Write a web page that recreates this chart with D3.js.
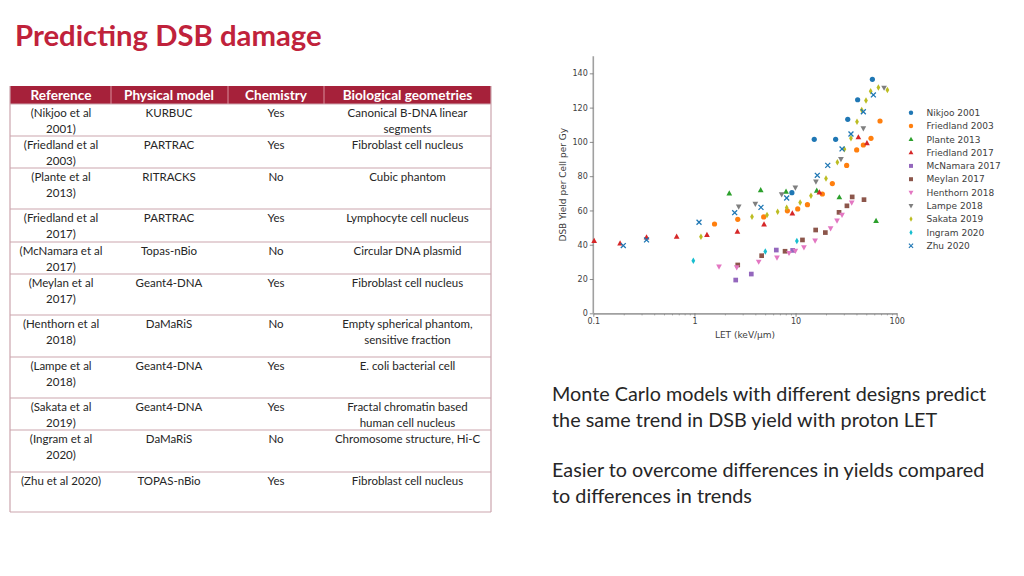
<!DOCTYPE html>
<html><head><meta charset="utf-8">
<script src="https://cdn.jsdelivr.net/npm/d3@7"></script>
<style>body{margin:0;background:#fff;} svg{display:block;}</style>
</head><body><svg id="c" width="1024" height="576"></svg>
<script>
// ---------- DATA ----------
const titleText = "Predicting DSB damage";
const tableHeaders = ["Reference", "Physical model", "Chemistry", "Biological geometries"];
const references = [["(Nikjoo et al","2001)"],["(Friedland et al","2003)"],["(Plante et al","2013)"],["(Friedland et al","2017)"],["(McNamara et al","2017)"],["(Meylan et al","2017)"],["(Henthorn et al","2018)"],["(Lampe et al","2018)"],["(Sakata et al","2019)"],["(Ingram et al","2020)"],["(Zhu et al 2020)"]];
const physicalModels = ["KURBUC","PARTRAC","RITRACKS","PARTRAC","Topas-nBio","Geant4-DNA","DaMaRiS","Geant4-DNA","Geant4-DNA","DaMaRiS","TOPAS-nBio"];
const chemistry = ["Yes","Yes","No","Yes","No","Yes","No","Yes","Yes","No","Yes"];
const geometries = [["Canonical B-DNA linear","segments"],["Fibroblast cell nucleus"],["Cubic phantom"],["Lymphocyte cell nucleus"],["Circular DNA plasmid"],["Fibroblast cell nucleus"],["Empty spherical phantom,","sensitive fraction"],["E. coli bacterial cell"],["Fractal chromatin based","human cell nucleus"],["Chromosome structure, Hi-C"],["Fibroblast cell nucleus"]];

const seriesNames = ["Nikjoo 2001","Friedland 2003","Plante 2013","Friedland 2017","McNamara 2017","Meylan 2017","Henthorn 2018","Lampe 2018","Sakata 2019","Ingram 2020","Zhu 2020"];
// [LET keV/um, DSB yield per cell per Gy]
const nikjoo2001 = [[9.2,70.4],[15.3,101.5],[24.9,101.5],[32.8,113.2],[41.1,124.6],[57.5,136.5]];
const friedland2003 = [[1.58,52.1],[2.68,54.8],[4.84,56.2],[8.3,59.8],[10.5,60.9],[13.1,63.4],[18.4,69.6],[23.1,75.7],[32.0,86.3],[40.2,95.3],[46.8,98.2],[55.7,102.1],[68.4,112.2]];
const plante2013 = [[2.21,70.0],[4.52,71.9],[8.05,71.0],[16.2,71.6],[27.1,67.7],[62.5,53.9]];
const friedland2017 = [[0.102,42.2],[0.184,40.8],[0.336,44.3],[0.667,44.7],[1.33,45.7],[2.66,47.6],[4.88,51.9],[9.29,58.3],[17.2,70.5],[41.8,102.7],[50.8,99.3]];
const mcnamara2017 = [[2.56,19.4],[3.65,22.9],[6.45,36.9],[9.36,36.7]];
const meylan2017 = [[2.68,28.2],[4.62,33.6],[7.87,36.2],[11.7,42.8],[15.8,48.6],[19.7,47.1],[26.9,58.9],[32.2,62.7],[36.3,67.9],[47.5,66.3]];
const henthorn2018 = [[1.75,27.2],[2.62,26.8],[4.32,30.1],[6.55,32.5],[8.61,35.2],[9.95,36.4],[12.1,38.5],[15.6,42.4],[22.2,49.6],[25.7,54.1],[28.8,57.4],[35.9,64.6]];
const lampe2018 = [[2.74,62.2],[4.0,63.8],[7.29,69.4],[9.95,73.3],[15.9,76.8],[28.1,90.0],[46.8,107.9],[75.0,131.6]];
const sakata2019 = [[1.16,44.7],[3.71,56.4],[5.22,57.4],[6.65,59.3],[8.17,61.6],[11.1,64.6],[14.2,68.6],[20.0,78.6],[25.9,88.1],[30.4,95.7],[35.3,102.1],[40.5,111.8],[45.1,118.6],[49.7,124.1],[55.3,129.5],[65.9,131.8],[80.9,130.3]];
const ingram2020 = [[0.975,30.7],[5.02,36.0],[10.3,42.2]];
const zhu2020 = [[0.198,39.5],[0.336,42.8],[1.11,53.1],[2.50,58.7],[4.55,61.8],[8.17,67.3],[16.4,80.5],[20.8,86.3],[28.8,95.9],[35.3,104.6],[46.8,117.6],[58.8,127.4]];

const xTickValues = [0.1, 1, 10, 100];
const xTickLabels = ["0.1", "1", "10", "100"];
const yTickValues = [0, 20, 40, 60, 80, 100, 120, 140];
const bodyText = [["Monte Carlo models with different designs predict","the same trend in DSB yield with proton LET"],["Easier to overcome differences in yields compared","to differences in trends"]];

// ---------- STYLES ----------
const seriesData = [nikjoo2001, friedland2003, plante2013, friedland2017, mcnamara2017, meylan2017, henthorn2018, lampe2018, sakata2019, ingram2020, zhu2020];
const seriesColors = ["#1f77b4","#ff7f0e","#2ca02c","#d62728","#9467bd","#8c564b","#e377c2","#7f7f7f","#bcbd22","#17becf","#1f77b4"];
const seriesShapes = ["circle","circle","tri-up","tri-up","square","square","tri-down","tri-down","diamond","diamond","x"];

const svg = d3.select("#c");

// Title
svg.append("text").attr("x", 15).attr("y", 46)
  .attr("font-family", "Lato, 'Open Sans', sans-serif").attr("font-weight", "bold")
  .attr("font-size", 29.3).attr("fill", "#c0223b").text(titleText);

// ---------- TABLE ----------
const tblLeft = 10, tblRight = 491;
const colBounds = [tblLeft, 111, 228, 324, tblRight];
const colCenters = [61, 169, 276, 407.5];
const headerTop = 86, headerBottom = 104;
const rowBounds = [104, 136, 168, 209, 242, 274, 315, 357, 398, 430, 472, 512];
const tblFont = "Lato, 'Open Sans', sans-serif";
const lineColor = "#cba5ae";
const tbl = svg.append("g");
tbl.append("rect").attr("x", tblLeft).attr("y", headerTop).attr("width", tblRight - tblLeft)
  .attr("height", headerBottom - headerTop).attr("fill", "#a6213a");
colBounds.slice(1, -1).forEach(cx => {
  tbl.append("line").attr("x1", cx).attr("x2", cx).attr("y1", headerTop).attr("y2", headerBottom)
    .attr("stroke", "#d9909c").attr("stroke-width", 1);
});
tableHeaders.forEach((h, i) => {
  tbl.append("text").attr("x", colCenters[i]).attr("y", 99.8).attr("text-anchor", "middle")
    .attr("font-family", tblFont).attr("font-weight", "bold").attr("font-size", 13.6)
    .attr("fill", "#ffffff").text(h);
});
rowBounds.forEach(ry => {
  tbl.append("line").attr("x1", tblLeft).attr("x2", tblRight).attr("y1", ry).attr("y2", ry)
    .attr("stroke", lineColor).attr("stroke-width", 1.2);
});
[tblLeft, tblRight].forEach(bx => {
  tbl.append("line").attr("x1", bx).attr("x2", bx).attr("y1", headerTop).attr("y2", rowBounds[rowBounds.length - 1])
    .attr("stroke", lineColor).attr("stroke-width", 1.2);
});
const cellLines = (lines, col, r) => {
  lines.forEach((t, k) => {
    tbl.append("text").attr("x", colCenters[col]).attr("y", rowBounds[r] + 12.5 + k * 16.3)
      .attr("text-anchor", "middle").attr("font-family", tblFont).attr("font-size", 11.5)
      .attr("fill", "#262626").text(t);
  });
};
references.forEach((lines, r) => {
  cellLines(lines, 0, r);
  cellLines([physicalModels[r]], 1, r);
  cellLines([chemistry[r]], 2, r);
  cellLines(geometries[r], 3, r);
});

// ---------- BODY TEXT ----------
bodyText.forEach((para, p) => {
  para.forEach((t, k) => {
    svg.append("text").attr("x", 552).attr("y", 401 + p * 76 + k * 26)
      .attr("font-family", tblFont).attr("font-size", 19.8).attr("fill", "#262626").text(t);
  });
});

// ---------- CHART ----------
const x = d3.scaleLog().domain([0.1, 100]).range([593.3, 896.7]);
const y = d3.scaleLinear().domain([0, 150]).range([313.3, 56.2]);
const axisFont = "'DejaVu Sans', sans-serif";
const axisColor = "#a0a0a0";
const textColor = "#404040";

// minor x ticks
const minorTicks = [];
[0.1, 1, 10].forEach(d => { for (let k = 2; k <= 9; k++) minorTicks.push(+(d * k).toPrecision(3)); });
const gxMinor = svg.append("g").attr("transform", `translate(0,${y(0)})`)
  .call(d3.axisBottom(x).tickValues(minorTicks).tickFormat("").tickSize(2).tickSizeOuter(0));
const gx = svg.append("g").attr("transform", `translate(0,${y(0)})`)
  .call(d3.axisBottom(x).tickValues(xTickValues).tickFormat((d, i) => xTickLabels[i]).tickSize(3.5).tickSizeOuter(0).tickPadding(2));
const gy = svg.append("g").attr("transform", `translate(${x(0.1)},0)`)
  .call(d3.axisLeft(y).tickValues(yTickValues).tickSize(3.5).tickSizeOuter(0).tickPadding(2));
[gxMinor, gx, gy].forEach(g => {
  g.select(".domain").attr("stroke", axisColor).attr("stroke-width", 1.6);
  g.selectAll(".tick line").attr("stroke", "#707070").attr("stroke-width", 0.8);
  g.selectAll(".tick text").attr("font-family", axisFont).attr("font-size", 8).attr("fill", textColor);
});
// y spine to top
gy.select(".domain").attr("d", `M0,${y(0)}V${y(150)}`);

svg.append("text").attr("x", x(Math.sqrt(10) )).attr("y", 338).attr("text-anchor", "middle")
  .attr("font-family", axisFont).attr("font-size", 9).attr("fill", textColor).text("LET (keV/μm)");
svg.append("text").attr("transform", `translate(566,${(y(0) + y(150)) / 2}) rotate(-90)`)
  .attr("text-anchor", "middle").attr("font-family", axisFont).attr("font-size", 9)
  .attr("fill", textColor).text("DSB Yield per Cell per Gy");

// markers
const R = 2.6;
function markerPath(shape) {
  switch (shape) {
    case "circle": return `M${R},0A${R},${R} 0 1,1 ${-R},0A${R},${R} 0 1,1 ${R},0Z`;
    case "tri-up": return `M0,${-R * 1.2}L${R * 1.1},${R * 0.8}L${-R * 1.1},${R * 0.8}Z`;
    case "tri-down": return `M0,${R * 1.2}L${R * 1.1},${-R * 0.8}L${-R * 1.1},${-R * 0.8}Z`;
    case "square": { const s = R * 0.9; return `M${-s},${-s}H${s}V${s}H${-s}Z`; }
    case "diamond": return `M0,${-R * 1.25}L${R * 0.72},0L0,${R * 1.25}L${-R * 0.72},0Z`;
    case "x": { const s = R * 0.95; return `M${-s},${-s}L${s},${s}M${-s},${s}L${s},${-s}`; }
  }
}
function drawMarker(g, shape, color) {
  const p = g.append("path").attr("d", markerPath(shape));
  if (shape === "x") p.attr("fill", "none").attr("stroke", color).attr("stroke-width", 1.3);
  else p.attr("fill", color);
}
const plot = svg.append("g");
seriesData.forEach((data, si) => {
  const g = plot.append("g");
  g.selectAll("g").data(data).enter().append("g")
    .attr("transform", d => `translate(${x(d[0])},${y(d[1])})`)
    .each(function () { drawMarker(d3.select(this), seriesShapes[si], seriesColors[si]); });
});

// legend
const lg = svg.append("g");
seriesNames.forEach((n, i) => {
  const yy = 112.7 + i * 13.3;
  const m = lg.append("g").attr("transform", `translate(911,${yy})`);
  drawMarker(m, seriesShapes[i], seriesColors[i]);
  m.select("path").attr("transform", "scale(0.85)");
  lg.append("text").attr("x", 926.5).attr("y", yy + 3.2).attr("font-family", axisFont)
    .attr("font-size", 9).attr("fill", textColor).text(n);
});
</script></body></html>
